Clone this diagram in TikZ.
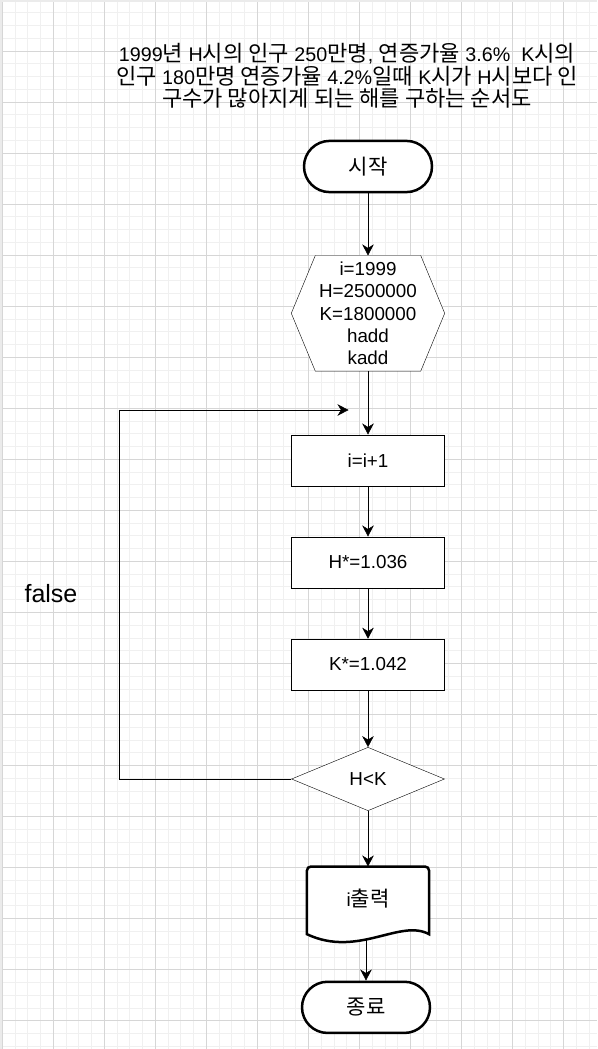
\documentclass[tikz,border=0pt]{standalone}
\usepackage{fontspec}
\setmainfont{Liberation Sans}
\newfontfamily\kr{Noto Sans CJK KR}[Scale=1.12]
\newcommand\ko[1]{{\kr #1}}
\usetikzlibrary{positioning,arrows.meta,shapes.geometric}
\pgfdeclarelayer{back}
\pgfsetlayers{back,main}

\begin{document}
\begin{tikzpicture}[x=1pt,y=-1pt,on grid,line width=1.3pt,
  >={Stealth[length=11pt,width=11.5pt,inset=3.5pt]},
  font=\fontsize{18.8}{22.3}\selectfont,
  proc/.style={draw,fill=white,minimum width=153pt,minimum height=51.2pt,inner sep=0pt},
  term/.style={draw,fill=white,line width=2.5pt,rounded corners=25.6pt,minimum width=128pt,minimum height=51.2pt,inner sep=0pt},
  cond/.style={draw,fill=white,diamond,aspect=2.4,minimum width=153pt,minimum height=63.4pt,inner sep=0pt}]
\useasboundingbox (0,0) rectangle (597,1049);
% grid paper
\begin{pgfonlayer}{back}
\fill[white] (0,0) rectangle (597,1049);
\foreach \i in {0,...,46} \draw[line width=1pt,black!6] (2.3+12.76*\i,0) -- (2.3+12.76*\i,1049);
\foreach \j in {0,...,82} \draw[line width=1pt,black!6] (0,12.76*\j) -- (597,12.76*\j);
\foreach \i in {0,...,11} \draw[line width=1pt,black!16] (2.3+51.04*\i,0) -- (2.3+51.04*\i,1049);
\foreach \j in {1,...,20} \draw[line width=1pt,black!16] (0,51.04*\j) -- (597,51.04*\j);
\draw[line width=4pt,black!8] (0,1049) -- (0,0) -- (597,0);
\end{pgfonlayer}

\node (title) at (347,76) [align=center,font=\fontsize{19.7}{22.5}\selectfont] {1999\ko{년} H\ko{시의 인구} 250\ko{만명}, \ko{연증가율} 3.6\%\ \ K\ko{시의}\\
  \ko{인구} 180\ko{만명 연증가율} 4.2\%\ko{일때} K\ko{시가} H\ko{시보다 인}\\
  \ko{구수가 많아지게 되는 해를 구하는 순서도}};

\node[term] (start) at (368,166.5) {\ko{시작}};
\node (init) [below=146.8pt of start,minimum width=153pt,minimum height=115.3pt,inner sep=0pt,align=center]
  {i=1999\\H=2500000\\K=1800000\\hadd\\kadd};
\node[proc] (inc) [below=147pt of init] {i=i+1};
\node[proc] (mulh) [below=102pt of inc] {H*=1.036};
\node[proc] (mulk) [below=102.2pt of mulh] {K*=1.042};
\node[cond] (test) [below=114.5pt of mulk] {H<K};
\node (out) [below=121.35pt of test,minimum width=121.7pt,minimum height=67.3pt,inner sep=0pt] {\raisebox{4.6pt}{i\ko{출력}}};
\node[term] (end) [below=107pt of out,xshift=-2pt] {\ko{종료}};
\node (no) at (51,594) [font=\fontsize{25}{29}\selectfont] {false};

\coordinate (back) at (119,410);
\coordinate (join) at (348.5,410);

% shapes behind the texts
\begin{pgfonlayer}{back}
\draw[fill=white] (init.west) -- ([xshift=24pt]init.north west) -- ([xshift=-24pt]init.north east) -- (init.east)
  -- ([xshift=-24pt]init.south east) -- ([xshift=24pt]init.south west) -- cycle;
\draw[line width=2.5pt,fill=white] (out.south west) [rounded corners=4pt] -- (out.north west) -- (out.north east)
  [sharp corners] -- (out.south east) .. controls +(-28.85,-16) and +(50.85,24) .. (out.south west) -- cycle;
\end{pgfonlayer}

\path[->]
  (start) edge (init)
  (init) edge (inc)
  (inc) edge (mulh)
  (mulh) edge (mulk)
  (mulk) edge (test)
  (test) edge (out)
  (out.south -| end) edge [shorten <=6pt] (end)
  ;
\draw[->] (test.west) -| (back) -- (join);
\end{tikzpicture}
\end{document}
